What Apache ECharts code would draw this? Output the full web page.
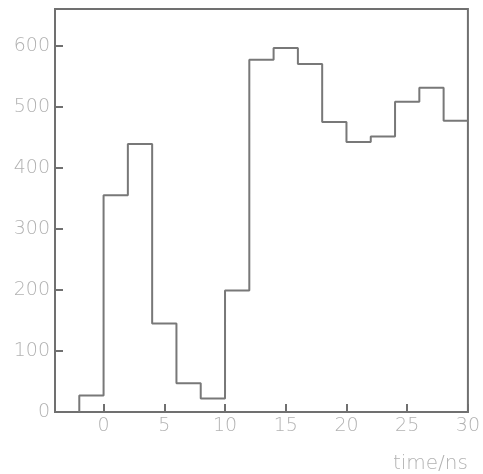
<!DOCTYPE html>
<html>
<head>
<meta charset="utf-8">
<script src="https://cdn.jsdelivr.net/npm/echarts@6/dist/echarts.min.js"></script>
<style>
  html, body { margin: 0; padding: 0; background: #fff; }
  #chart { width: 483px; height: 474px; }
</style>
</head>
<body>
<div id="chart"></div>
<script>
// Histogram of arrival times, 2 ns bins
const binEdges = [-2, 0, 2, 4, 6, 8, 10, 12, 14, 16, 18, 20, 22, 24, 26, 28, 30];
const counts = [27, 355, 439, 145, 47, 22, 199, 577, 596, 570, 475, 442, 451, 508, 531, 477];
const xTicks = [0, 5, 10, 15, 20, 25, 30];
const yTicks = [0, 100, 200, 300, 400, 500, 600];
const xMin = -4, xMax = 30;
const yMin = 0, yMax = 660;

// Step outline: start at zero on the first edge, hold each count across its bin
const outline = [[binEdges[0], 0]];
counts.forEach((c, i) => outline.push([binEdges[i], c]));
outline.push([binEdges[binEdges.length - 1], counts[counts.length - 1]]);

const gridBox = { left: 55, top: 9, right: 11, bottom: 62 };
const chartHeight = 474;
const tickPx = 8;
// inward tick length along the time axis, expressed in count units
const tickLen = tickPx * (yMax - yMin) / (chartHeight - gridBox.top - gridBox.bottom);

const axisGray = '#707070';
const labelGray = '#b2b2b2';
const labelFont = { color: labelGray, fontSize: 19, fontFamily: 'DejaVu Sans', fontWeight: 'lighter' };
const axisLineStyle = { color: axisGray, width: 2 };

const chart = echarts.init(document.getElementById('chart'), null, { renderer: 'canvas' });
chart.setOption({
  animation: false,
  grid: Object.assign({}, gridBox, {
    show: true, borderColor: axisGray, borderWidth: 2, backgroundColor: 'transparent'
  }),
  xAxis: {
    type: 'value', min: xMin, max: xMax, position: 'bottom',
    name: 'time/ns', nameLocation: 'end',
    nameGap: 0,
    nameTextStyle: Object.assign({}, labelFont, { fontSize: 20, align: 'right', verticalAlign: 'top', padding: [42, 0, 0, 0] }),
    axisLine: { show: true, onZero: false, lineStyle: axisLineStyle },
    axisTick: { show: false },
    axisLabel: Object.assign({}, labelFont, { margin: 5, customValues: xTicks }),
    splitLine: { show: false }
  },
  yAxis: {
    type: 'value', min: yMin, max: yMax, interval: 100,
    axisLine: { show: true, onZero: false, lineStyle: axisLineStyle },
    axisTick: { show: true, inside: true, length: tickPx, lineStyle: axisLineStyle },
    axisLabel: Object.assign({}, labelFont, { margin: 5, customValues: yTicks }),
    splitLine: { show: false }
  },
  series: [{
    type: 'line',
    step: 'end',
    data: outline,
    showSymbol: false,
    lineStyle: { color: '#787878', width: 2 },
    silent: true,
    // short inward ticks on the time axis every 5 ns
    markLine: {
      silent: true,
      animation: false,
      symbol: ['none', 'none'],
      label: { show: false },
      lineStyle: { color: axisGray, width: 2, type: 'solid' },
      emphasis: { disabled: true },
      data: xTicks.map(t => [{ coord: [t, yMin] }, { coord: [t, yMin + tickLen] }])
    }
  }]
});
</script>
</body>
</html>
